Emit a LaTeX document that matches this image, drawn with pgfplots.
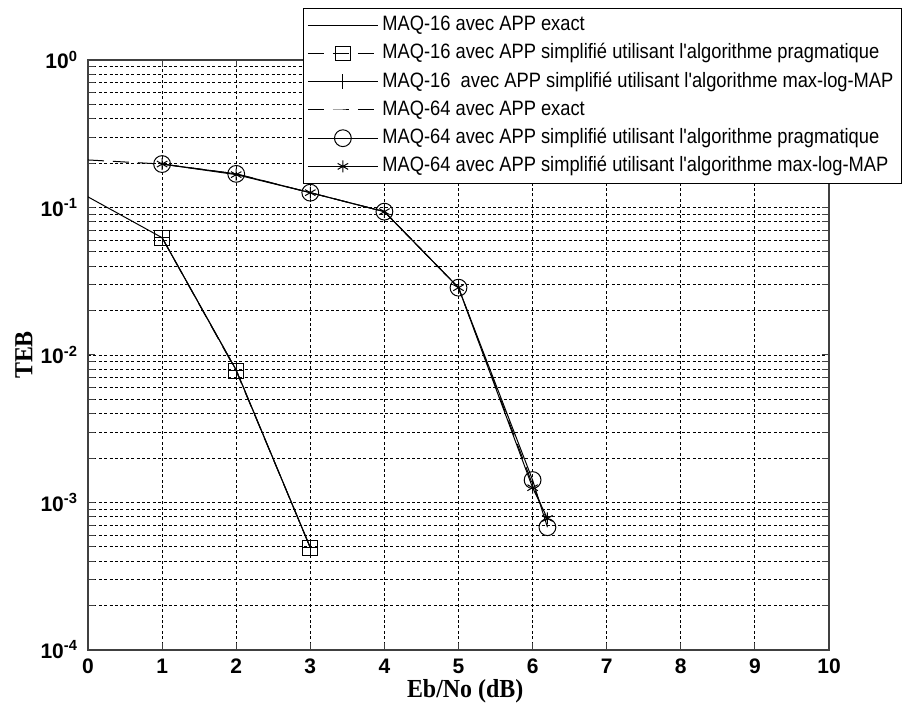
\documentclass[border=0pt]{standalone}
\usepackage{fontspec}
\setmainfont{Liberation Sans}
\newfontfamily\legfont[FakeStretch=0.88]{Liberation Sans}
\newfontfamily\labfont[FakeStretch=0.92]{Liberation Serif}
\usepackage{pgfplots}
\pgfplotsset{compat=1.18}
\begin{document}
\begin{tikzpicture}
\path[use as bounding box] (-44pt,-30pt) rectangle (408pt,325pt);
\begin{axis}[
  at={(0,0)}, anchor=south west,
  scale only axis, width=370.5pt, height=295pt,
  xmin=0, xmax=10, ymin=1e-4, ymax=1, ymode=log,
  xtick={0,1,2,3,4,5,6,7,8,9,10},
  xticklabels={0,1,2,3,4,5,6,7,8,9,10},
  ytick={1e-4,1e-3,1e-2,1e-1,1},
  yticklabels={10\textsuperscript{-4},10\textsuperscript{-3},10\textsuperscript{-2},10\textsuperscript{-1},10\textsuperscript{0}},
  tick label style={font=\fontsize{10.5}{11}\selectfont\bfseries},
  xticklabel style={yshift=-1pt},
  yticklabel style={xshift=-1.5pt},
  xmajorgrids, ymajorgrids, yminorgrids,
  major grid style={dash pattern=on 1.5pt off 1.2pt, black, line width=0.45pt},
  minor grid style={dash pattern=on 1.5pt off 1.2pt, black, line width=0.45pt},
  axis line style={black!75, line width=0.6pt},
  tick style={black!75, line width=0.5pt},
  tick align=inside, major tick length=3.5pt, minor tick length=3.5pt,
  xlabel={Eb/No (dB)}, ylabel={TEB},
  xlabel style={font=\labfont\fontsize{13}{14}\selectfont\bfseries, at={(axis description cs:0.509,-0.0695)}, anchor=center},
  ylabel style={font=\labfont\fontsize{13}{14}\selectfont\bfseries, at={(axis description cs:-0.0864,0.5)}, anchor=center},
  legend cell align=left,
  legend style={at={(axis description cs:1.0985,1.0881)}, anchor=north east,
    draw=black, line width=0.5pt, fill=white,
    font=\legfont\fontsize{10.4}{11}\selectfont,
    nodes={text height=7.4pt, text depth=2.1pt, inner ysep=2.2pt},
    row sep=0.2pt, inner xsep=2pt, inner ysep=1.5pt},
  legend image code/.code={\draw[#1, mark repeat=2, mark phase=2] plot coordinates {(0pt,0pt) (17.5pt,0pt) (35pt,0pt)};},
  every axis plot/.append style={line width=0.5pt, black},
]
% MAQ-16 exact
\addplot[solid, mark=none] coordinates {(0,0.118) (1,0.0624) (2,0.0079) (3,0.000494)};
\addlegendentry{MAQ-16 avec APP exact}
% MAQ-16 pragmatic
\addplot[dash pattern=on 8pt off 4.5pt, mark=square, mark size=3.7pt, mark options={solid}] coordinates {(1,0.0624) (2,0.0078) (3,0.000494)};
\addlegendentry{MAQ-16 avec APP simplifié utilisant l'algorithme pragmatique}
% MAQ-16 max-log
\addplot[solid, mark=+, mark size=3.7pt] coordinates {(1,0.0624) (2,0.0079) (3,0.000494)};
\addlegendentry{MAQ-16 \ avec APP simplifié utilisant l'algorithme max-log-MAP}
% MAQ-64 exact
\addplot[dash pattern=on 8pt off 4.5pt, mark=none] coordinates {(0,0.21) (1,0.197) (2,0.169) (3,0.126) (4,0.0937) (5,0.0286) (6,0.00132) (6.2,0.00075)};
\addlegendentry{MAQ-64 avec APP exact}
% MAQ-64 pragmatic
\addplot[solid, mark=o, mark size=4.2pt] coordinates {(1,0.197) (2,0.169) (3,0.126) (4,0.0937) (5,0.0286) (6,0.00142) (6.2,0.00068)};
\addlegendentry{MAQ-64 avec APP simplifié utilisant l'algorithme pragmatique}
% MAQ-64 max-log
\addplot[solid, mark=asterisk, mark size=3pt] coordinates {(1,0.197) (2,0.167) (3,0.126) (4,0.0937) (5,0.0286) (6,0.00126) (6.2,0.00078)};
\addlegendentry{MAQ-64 avec APP simplifié utilisant l'algorithme max-log-MAP}
\end{axis}
\end{tikzpicture}
\end{document}
